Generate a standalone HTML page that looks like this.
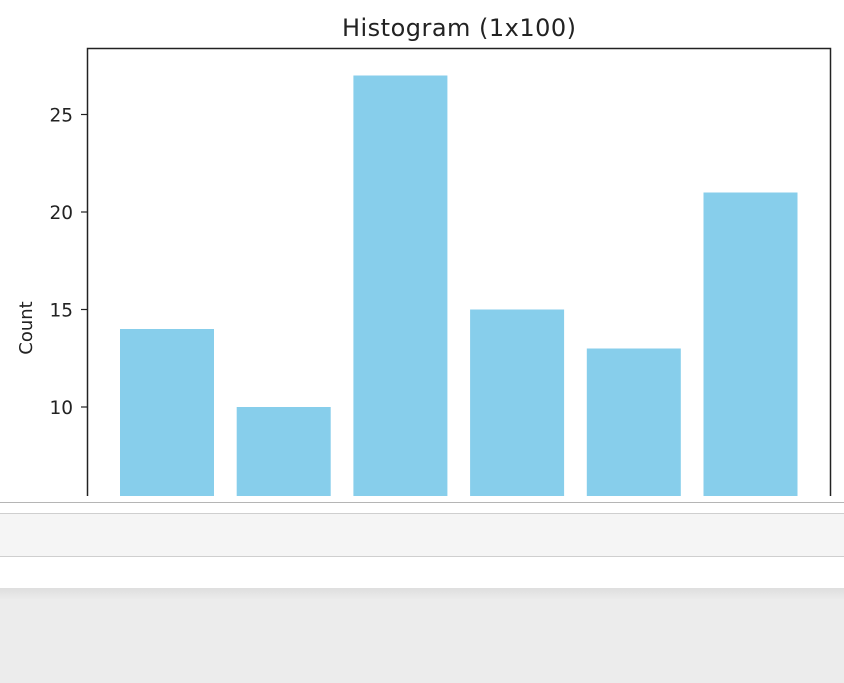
<!DOCTYPE html>
<html><head><meta charset="utf-8"><style>
body{margin:0;width:844px;height:683px;overflow:hidden;background:#fff;font-family:"Liberation Sans","DejaVu Sans",sans-serif;position:relative}
#bottom-bar1{position:absolute;left:0;top:502px;width:844px;height:1px;background:#b5b5b5}
#toolbar{position:absolute;left:0;top:513px;width:844px;height:42px;background:#f5f5f5;border-top:1px solid #cfcfcf;border-bottom:1px solid #cfcfcf}
#footer{position:absolute;left:0;top:588px;width:844px;height:95px;background:linear-gradient(#dedede,#ececec 12px,#ececec)}
</style></head><body>
<svg id="chart" width="844" height="500" style="position:absolute;left:0;top:0" font-family="DejaVu Sans, Liberation Sans, sans-serif">
<text x="459" y="36" text-anchor="middle" font-size="24" textLength="234" fill="#222">Histogram (1x100)</text>
<text transform="translate(32,328) rotate(-90)" text-anchor="middle" font-size="18" fill="#222">Count</text>
<g id="bars"></g><g id="ticks"></g>
<path d="M87.5,496 V48.5 H830.5 V496" fill="none" stroke="#222" stroke-width="1.5"/>
</svg>
<div id="bottom-bar1"></div>
<div id="toolbar"></div>
<div id="footer"></div>
<script>
const binLabels=["b1","b2","b3","b4","b5","b6"];
const counts=[14,10,27,15,13,21];
const yTicks=[10,15,20,25];
const ns="http://www.w3.org/2000/svg";
function yS(v){return 212-(v-20)*19.5;}
function xS(i){return 167+i*116.7;}
const bw=94, bottom=496;
const bars=document.getElementById('bars');
counts.forEach((c,i)=>{
 const r=document.createElementNS(ns,'rect');
 
 
 r.setAttribute('x',xS(i)-bw/2);r.setAttribute('y',yS(c));
 r.setAttribute('width',bw);r.setAttribute('height',bottom-yS(c));
 r.setAttribute('fill','#87ceeb');bars.appendChild(r);
});
const tg=document.getElementById('ticks');
yTicks.forEach(t=>{
 const l=document.createElementNS(ns,'line');
 
 
 l.setAttribute('x1',81);l.setAttribute('x2',87);l.setAttribute('y1',yS(t));l.setAttribute('y2',yS(t));
 l.setAttribute('stroke','#222');l.setAttribute('stroke-width','1.2');tg.appendChild(l);
 const tx=document.createElementNS(ns,'text');
 
 
 tx.setAttribute('x',73);tx.setAttribute('y',yS(t)+7);tx.setAttribute('text-anchor','end');
 tx.setAttribute('font-size','18.5');tx.setAttribute('fill','#222');tx.textContent=t;tg.appendChild(tx);
});
</script>
</body></html>
